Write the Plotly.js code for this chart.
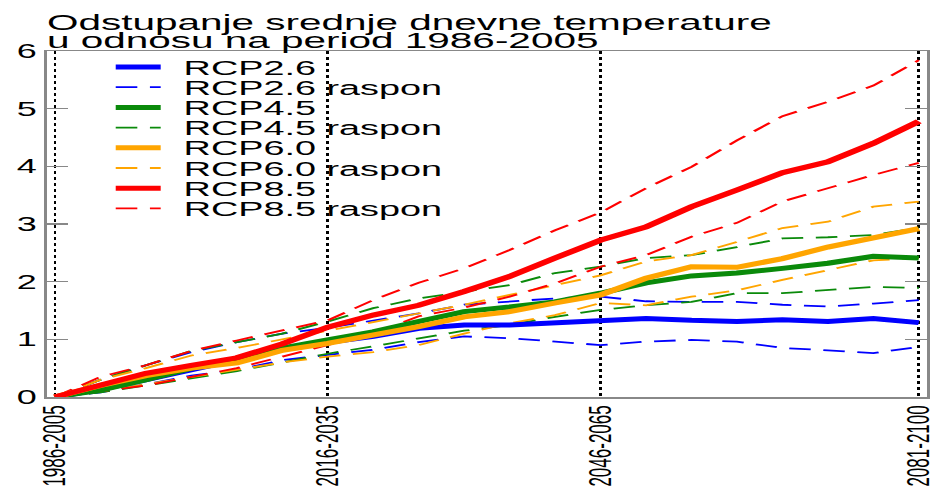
<!DOCTYPE html>
<html><head><meta charset="utf-8">
<script src="https://cdn.plot.ly/plotly-3.0.1.min.js"></script>
<style>
html,body{margin:0;padding:0;overflow:hidden;background:#fff}
#wrap{width:931px;height:486px;overflow:hidden}
#chart{width:517px;height:486px;transform:scaleX(1.8);transform-origin:0 0}
</style>
</head><body><div id="wrap"><div id="chart"></div></div>
<script>
// ---- data ----
const years = [2005,2010,2015,2020,2025,2030,2035,2040,2045,2050,2055,2060,2065,2070,2075,2080,2085,2090,2095,2100];
const tickYears = [2005, 2035, 2065, 2100];
const tickLabels = ["1986-2005", "2016-2035", "2046-2065", "2081-2100"];

const rcp26   = [0,0.13,0.30,0.47,0.65,0.82,0.95,1.05,1.19,1.25,1.25,1.28,1.31,1.36,1.33,1.31,1.34,1.31,1.36,1.29];
const rcp26hi = [0,0.30,0.55,0.78,0.95,1.10,1.20,1.33,1.45,1.60,1.65,1.71,1.74,1.66,1.65,1.65,1.60,1.57,1.62,1.68];
const rcp26lo = [0,0.08,0.22,0.37,0.47,0.64,0.73,0.82,0.95,1.05,1.02,0.96,0.90,0.96,0.99,0.96,0.85,0.81,0.76,0.87];

const rcp45   = [0,0.12,0.30,0.50,0.65,0.85,0.99,1.13,1.31,1.48,1.56,1.65,1.80,1.98,2.10,2.15,2.23,2.32,2.44,2.41];
const rcp45hi = [0,0.30,0.55,0.80,0.95,1.10,1.31,1.54,1.71,1.83,1.94,2.15,2.26,2.41,2.46,2.60,2.75,2.77,2.81,2.93];
const rcp45lo = [0,0.08,0.20,0.33,0.45,0.60,0.75,0.88,1.02,1.15,1.25,1.39,1.51,1.59,1.65,1.80,1.80,1.85,1.91,1.89];

const rcp60   = [0,0.20,0.37,0.50,0.59,0.81,0.93,1.07,1.22,1.39,1.48,1.63,1.77,2.06,2.26,2.25,2.40,2.60,2.75,2.92];
const rcp60hi = [0,0.30,0.50,0.72,0.85,1.00,1.15,1.30,1.45,1.60,1.77,1.94,2.11,2.35,2.46,2.69,2.93,3.04,3.30,3.39];
const rcp60lo = [0,0.10,0.22,0.35,0.47,0.60,0.70,0.78,0.90,1.10,1.28,1.42,1.63,1.59,1.74,1.85,2.03,2.20,2.37,2.41];

const rcp85   = [0,0.21,0.41,0.55,0.68,0.92,1.21,1.42,1.59,1.83,2.09,2.41,2.72,2.95,3.30,3.59,3.89,4.08,4.40,4.78];
const rcp85hi = [0,0.35,0.55,0.80,0.98,1.15,1.33,1.68,1.98,2.23,2.55,2.89,3.20,3.62,3.99,4.45,4.87,5.12,5.40,5.84];
const rcp85lo = [0,0.10,0.20,0.35,0.50,0.70,0.90,1.10,1.40,1.55,1.74,1.97,2.26,2.46,2.78,3.02,3.39,3.62,3.85,4.06];

const scenarioNames = ["RCP2.6", "RCP4.5", "RCP6.0", "RCP8.5"];
const rangeSuffix = " raspon";
const titleLines = ["Odstupanje srednje dnevne temperature", "u odnosu na period 1986-2005"];

// ---- styling ----
const colors = ["#0000ff", "#0a8a0a", "#ffa500", "#ff0000"];
const FONT = "Liberation Sans, Arial, Helvetica, sans-serif";
const DASH = "12px,7px";
const means = [rcp26, rcp45, rcp60, rcp85];
const his = [rcp26hi, rcp45hi, rcp60hi, rcp85hi];
const los = [rcp26lo, rcp45lo, rcp60lo, rcp85lo];

const traces = [];
for (let i = 0; i < 4; i++) {
  [his[i], los[i]].forEach(arr => traces.push({
    x: years, y: arr, type: "scatter", mode: "lines",
    line: {color: colors[i], width: 1.8, dash: DASH}, showlegend: false, hoverinfo: "skip"
  }));
}
for (let i = 0; i < 4; i++) {
  traces.push({
    x: years, y: means[i], type: "scatter", mode: "lines",
    line: {color: colors[i], width: 5}, showlegend: false, hoverinfo: "skip"
  });
}

// manual legend (compact rows)
const annotations = [];
const shapes = [];
const rowTop = 67, rowStep = 20.2, plotTopPx = 51, plotBotPx = 397;
const toPaperY = py => (plotBotPx - py) / (plotBotPx - plotTopPx);
let row = 0;
for (let i = 0; i < 4; i++) {
  [false, true].forEach(isRange => {
    const yp = toPaperY(rowTop + rowStep * row);
    annotations.push({
      xref: "paper", yref: "paper", x: 0.1505, y: yp, xanchor: "left", yanchor: "middle",
      text: scenarioNames[i] + (isRange ? rangeSuffix : ""), showarrow: false,
      font: {family: FONT, size: 21, color: "#000"}
    });
    shapes.push({
      type: "line", xref: "paper", yref: "paper", x0: 0.0783, x1: 0.1294, y0: yp, y1: yp,
      line: isRange ? {color: colors[i], width: 1.8, dash: DASH} : {color: colors[i], width: 5}
    });
    row++;
  });
}
annotations.push({
  xref: "paper", yref: "paper", x: 0, y: toPaperY(22.5), xanchor: "left", yanchor: "middle", xshift: -2,
  text: titleLines[0], showarrow: false, font: {family: FONT, size: 22.5, color: "#000"}
});
annotations.push({
  xref: "paper", yref: "paper", x: 0, y: toPaperY(41), xanchor: "left", yanchor: "middle", xshift: -2,
  text: titleLines[1], showarrow: false, font: {family: FONT, size: 22.5, color: "#000"}
});

const layout = {
  width: 517, height: 486,
  margin: {l: 25.5, r: 2.2, t: 51, b: 89, pad: 0},
  paper_bgcolor: "#fff", plot_bgcolor: "#fff",
  showlegend: false, hovermode: false,
  font: {family: FONT, color: "#000"},
  xaxis: {
    range: [2004.1, 2100.9], tickmode: "array", tickvals: tickYears, ticktext: tickLabels,
    tickangle: -90, ticks: "", showgrid: true, gridcolor: "#000", griddash: "dot", gridwidth: 1.6,
    showline: true, linecolor: "#888", linewidth: 1.5, mirror: true, zeroline: false,
    ticklabeloverflow: "allow",
    tickfont: {family: FONT, size: 17, color: "#000"}
  },
  yaxis: {
    range: [0, 6], dtick: 1, tick0: 0, ticks: "inside", ticklen: 12, tickwidth: 1.3, tickcolor: "#888",
    showline: true, linecolor: "#888", linewidth: 1.5, mirror: "ticks", showgrid: false, zeroline: false,
    tickfont: {family: FONT, size: 20, color: "#000"}
  },
  annotations: annotations,
  shapes: shapes
};

Plotly.newPlot("chart", traces, layout, {displayModeBar: false, staticPlot: true});
</script></body></html>
